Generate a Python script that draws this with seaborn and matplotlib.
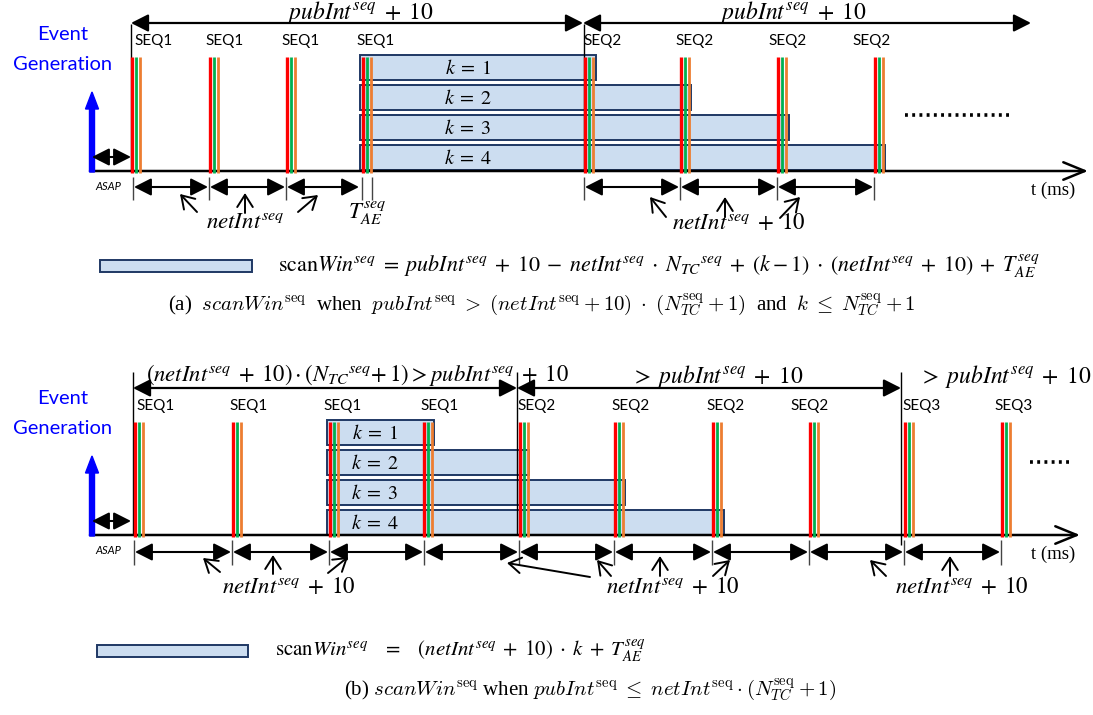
import matplotlib
matplotlib.use("Agg")
import matplotlib.pyplot as plt
from matplotlib.patches import FancyArrow, Rectangle
import numpy as np
import pandas as pd
import seaborn as sns

sns.set_theme(style="white")
plt.rcParams['font.family'] = ['Lato', 'DejaVu Sans']
plt.rcParams['mathtext.fontset'] = 'stix'
plt.rcParams['text.color'] = 'black'

# ---------------- data (timeline positions, drawing units) ----------------
events_a = [132, 210, 287, 363, 585, 681, 778, 875]
seq_a = ['SEQ1', 'SEQ1', 'SEQ1', 'SEQ1', 'SEQ2', 'SEQ2', 'SEQ2', 'SEQ2']
events_b = [135, 233, 330, 424, 520, 615, 713, 810, 905, 1002]
seq_b = ['SEQ1', 'SEQ1', 'SEQ1', 'SEQ1', 'SEQ2', 'SEQ2', 'SEQ2', 'SEQ2', 'SEQ3', 'SEQ3']
k_values = [1, 2, 3, 4]
scan_start_a = [360, 360, 360, 360]
scan_end_a = [596, 691, 789, 885]
scan_start_b = [327, 327, 327, 327]
scan_end_b = [434, 529, 625, 724]

RED, GREEN, ORANGE = '#FF0000', '#00B050', '#ED7D31'
BAR_FC, BAR_EC = '#CCDDF0', '#1F3864'

W, H = 1093, 715
fig = plt.figure(figsize=(W / 100, H / 100), dpi=100)
ax = fig.add_axes([0, 0, 1, 1])
ax.set_xlim(0, W)
ax.set_ylim(H, 0)
ax.axis('off')

MSZ = 16.5  # math label size


def darrow(x0, x1, y, lw=1.6, left=True, right=True):
    style = ('<|-|>' if (left and right) else ('<|-' if left else '-|>'))
    ax.annotate('', xy=(x1, y), xytext=(x0, y),
                arrowprops=dict(arrowstyle=style + ',head_length=0.75,head_width=0.38',
                                color='black', lw=lw, shrinkA=0, shrinkB=0,
                                mutation_scale=14))


def pointer(x0, y0, x1, y1):
    ax.annotate('', xy=(x1, y1), xytext=(x0, y0),
                arrowprops=dict(arrowstyle='->,head_length=0.55,head_width=0.35',
                                color='black', lw=1.4, shrinkA=0, shrinkB=0,
                                mutation_scale=16))


def mtext(x, y, s, size=MSZ, ha='center', **kw):
    ax.text(x, y, s, fontsize=size, ha=ha, va='center', color='black', **kw)


def panel(events, seqs, label_dx, y_axis, y_top, scan_start, scan_end, k_x,
          x_axis_end):
    # scan windows
    centers = [y_top + 12.5 + 30 * (k - 1) for k in k_values]
    ax.barh(centers, np.array(scan_end) - np.array(scan_start), left=scan_start,
            height=25, color=BAR_FC, edgecolor=BAR_EC, linewidth=1.4, zorder=2)
    for k, c in zip(k_values, centers):
        mtext(k_x, c, r'$k\;=\;%d$' % k, size=14.5, zorder=5)
    # events
    ev = np.array(events, dtype=float)
    ax.vlines(ev, y_top + 2, y_axis + 2, color=RED, lw=2.4, zorder=4)
    ax.vlines(ev + 4, y_top + 2, y_axis + 2, color=GREEN, lw=2.0, zorder=4)
    ax.vlines(ev + 8, y_top + 2, y_axis + 2, color=ORANGE, lw=2.0, zorder=4)
    for x, s, dx in zip(events, seqs, label_dx):
        ax.text(x + dx, y_top - 14, s, fontsize=11, ha='center', va='center',
                color='black', zorder=5)
    # time axis
    ax.annotate('', xy=(x_axis_end, y_axis), xytext=(90, y_axis),
                arrowprops=dict(arrowstyle='->,head_length=1.1,head_width=0.45',
                                color='black', lw=1.8, shrinkA=0, shrinkB=0,
                                mutation_scale=14), zorder=3)
    ax.text(1053, y_axis + 19, 't (ms)', fontsize=13.5, ha='center', va='center',
            family='Liberation Serif')
    # event generation arrow
    ax.add_patch(FancyArrow(92, y_axis + 1, 0, -80, width=5, head_width=13,
                            head_length=17, length_includes_head=True,
                            color='#0000FF', zorder=3))
    ax.text(63, y_top - 21, 'Event', fontsize=14.5, color='#0000FF',
            ha='center', va='center')
    ax.text(63, y_top + 9, 'Generation', fontsize=14.5, color='#0000FF',
            ha='center', va='center')
    darrow(92, 131, y_axis - 14, lw=1.5)
    ax.text(108, y_axis + 15, 'ASAP', fontsize=8, style='italic', ha='center',
            va='center')


# ---------------- panel (a) ----------------
ya, ta = 171, 55
panel(events_a, seq_a, [22, 15, 14, 13, 18, 14, 10, -3], ya, ta,
      scan_start_a, scan_end_a, 468, 1088)
ax.vlines([131, 584], 24, ya, color='black', lw=1.0, zorder=3)
darrow(131, 583, 23)
darrow(583, 1031, 23)
mtext(360, 12, r'$pubInt^{seq}\;+\;10$', size=17)
mtext(793, 12, r'$pubInt^{seq}\;+\;10$', size=17)
# ticks and interval arrows
ticks_a = [133, 209, 286, 362, 372, 584, 680, 777, 874]
ax.vlines(ticks_a, ya + 6, ya + 29, color='#444444', lw=1.0)
for x0, x1 in [(133, 209), (209, 286), (286, 360), (584, 680), (680, 777), (777, 874)]:
    darrow(x0 + 1, x1 - 1, ya + 16, lw=1.5)
for p in [(197, 212, 180, 194), (245, 213, 245, 193), (298, 212, 318, 195),
          (666, 217, 650, 197), (725, 217, 725, 197), (780, 218, 800, 197)]:
    pointer(*p)
mtext(245, 221, r'$netInt^{seq}$')
mtext(367, 213, r'$T_{AE}^{seq}$')
mtext(739, 223, r'$netInt^{seq}\;+\;10$')
ax.plot([905, 1012], [115, 115], color='black', lw=2.6, ls=(0, (0.8, 1.2)))

# legend (a)
ax.add_patch(Rectangle((100, 260), 152, 12, facecolor=BAR_FC, edgecolor=BAR_EC, lw=1.4))
mtext(278, 266, r'$\mathrm{scan}Win^{seq}\;=\;pubInt^{seq}\;+\;10\;-\;netInt^{seq}\;\cdot\;N_{TC}{}^{seq}'
      r'\;+\;(k-1)\;\cdot\;(netInt^{seq}\;+\;10)\;+\;T_{AE}^{seq}$', size=15.8, ha='left')
ax.text(542, 305, r'(a)  $scanWin^{\rm seq}$  when  $pubInt^{\rm seq} \;>\; (netInt^{\rm seq}+10)\;\cdot\;'
        r'(N_{TC}^{\rm seq}+1)$  and  $k \;\leq\; N_{TC}^{\rm seq}+1$',
        fontsize=15, ha='center', va='center', family='Liberation Serif',
        math_fontfamily='cm', color='black')

# ---------------- panel (b) ----------------
yb, tb = 535, 420
panel(events_b, seq_b, [21, 16, 13, 16, 17, 16, 13, 0, 17, 12], yb, tb,
      scan_start_b, scan_end_b, 375, 1080)
ax.vlines([133, 517], 372, yb, color='black', lw=1.0, zorder=3)
ax.vlines([901], 372, yb + 10, color='black', lw=1.0, zorder=3)
darrow(133, 517, 388)
darrow(517, 901, 388)
darrow(901, 1096, 388, right=False)
mtext(357, 375, r'$(netInt^{seq}\;+\;10)\cdot(N_{TC}{}^{seq}\!+1) > pubInt^{seq}\;+\;10$', size=16.3)
mtext(717, 376, r'$>\;pubInt^{seq}\;+\;10$', size=17)
mtext(1005, 376, r'$>\;pubInt^{seq}\;+\;10$', size=17)
ticks_b = [134, 232, 329, 424, 519, 614, 712, 809, 904, 1001]
ax.vlines(ticks_b, yb + 5, yb + 30, color='#444444', lw=1.0)
for x0, x1 in zip(ticks_b[:-1], ticks_b[1:]):
    darrow(x0 + 1, x1 - 1, yb + 17, lw=1.5)
for p in [(220, 572, 203, 558), (273, 574, 273, 555), (328, 573, 348, 557),
          (590, 577, 507, 563), (611, 576, 597, 560), (660, 576, 660, 556),
          (713, 576, 730, 560), (886, 576, 870, 560), (950, 576, 950, 556)]:
    pointer(*p)
mtext(289, 587, r'$netInt^{seq}\;+\;10$')
mtext(673, 587, r'$netInt^{seq}\;+\;10$')
mtext(962, 587, r'$netInt^{seq}\;+\;10$')
ax.plot([1030, 1070], [462, 462], color='black', lw=2.6, ls=(0, (0.8, 1.2)))

# legend (b)
ax.add_patch(Rectangle((97, 645), 151, 12, facecolor=BAR_FC, edgecolor=BAR_EC, lw=1.4))
mtext(275, 651, r'$\mathrm{scan}Win^{seq}\quad=\quad(netInt^{seq}\;+\;10)\;\cdot\;k\;+\;T_{AE}^{seq}$',
      size=15, ha='left')
ax.text(590, 690, r'(b) $scanWin^{\rm seq}$ when $pubInt^{\rm seq} \;\leq\; netInt^{\rm seq}\cdot'
        r'(N_{TC}^{\rm seq}+1)$',
        fontsize=15, ha='center', va='center', family='Liberation Serif',
        math_fontfamily='cm', color='black')

fig.savefig('out.png', dpi=100, facecolor='white')
